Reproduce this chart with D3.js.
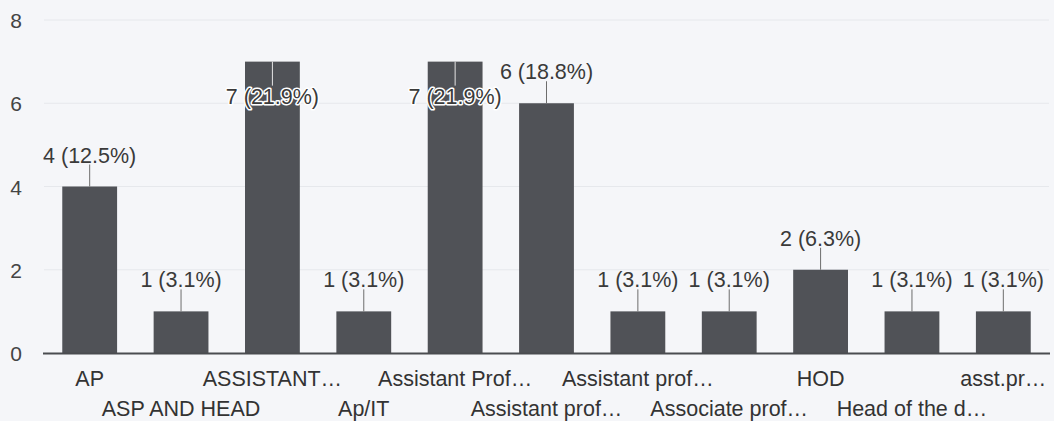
<!DOCTYPE html>
<html>
<head>
<meta charset="utf-8">
<script src="https://cdn.jsdelivr.net/npm/d3@7"></script>
<style>
  html, body { margin: 0; padding: 0; background: #f5f6f9; }
  svg { display: block; font-family: "Liberation Sans", Arial, sans-serif; }
</style>
</head>
<body>
<div id="chart"></div>
<script>
"use strict";

/* data */
const categories = ["AP", "ASP AND HEAD", "ASSISTANT…", "Ap/IT", "Assistant Prof…",
  "Assistant prof…", "Assistant prof…", "Associate prof…", "HOD", "Head of the d…", "asst.pr…"];
const counts = [4, 1, 7, 1, 7, 6, 1, 1, 2, 1, 1];
const percents = ["12.5", "3.1", "21.9", "3.1", "21.9", "18.8", "3.1", "3.1", "6.3", "3.1", "3.1"];
const yTicks = [0, 2, 4, 6, 8];

//---------------------------------
/* sizes and styles */
const w = 1054;
const h = 421;
const plotLeft = 44;
const plotRight = 1049;
const plotTop = 20;
const plotBottom = 353;
const barColor = "#505257";
const textColor = "#3a3a3a";
const fontSize = 21.5;

const svg = d3.select("#chart")
  .append("svg")
  .attr("width", w)
  .attr("height", h);

const xScale = d3.scaleBand()
  .domain(d3.range(categories.length))
  .range([plotLeft, plotRight])
  .paddingInner(0.4)
  .paddingOuter(0.2);

const yScale = d3.scaleLinear()
  .domain([0, 8])
  .range([plotBottom, plotTop]);

//---------------------------------
/* gridlines */
svg.append("g")
  .selectAll("line")
  .data(yTicks.filter(t => t > 0))
  .enter()
  .append("line")
  .attr("x1", plotLeft)
  .attr("x2", plotRight)
  .attr("y1", d => yScale(d))
  .attr("y2", d => yScale(d))
  .attr("stroke", "#e6e8ec")
  .attr("stroke-width", 1);

/* y axis labels */
const yAxis = d3.axisLeft(yScale).tickValues(yTicks).tickSize(0).tickPadding(0);
const yg = svg.append("g")
  .attr("transform", "translate(22,0)")
  .call(yAxis);
yg.select(".domain").remove();
yg.selectAll("text")
  .attr("font-size", 21)
  .attr("font-family", "Liberation Sans, Arial, sans-serif")
  .attr("fill", "#444")
  .attr("dy", "0.36em");

//---------------------------------
/* bars */
svg.append("g")
  .selectAll("rect")
  .data(counts)
  .enter()
  .append("rect")
  .attr("x", (d, i) => xScale(i))
  .attr("y", d => yScale(d))
  .attr("width", xScale.bandwidth())
  .attr("height", d => plotBottom - yScale(d))
  .attr("fill", barColor);

/* baseline */
svg.append("line")
  .attr("x1", plotLeft - 1)
  .attr("x2", plotRight + 1)
  .attr("y1", plotBottom + 0.5)
  .attr("y2", plotBottom + 0.5)
  .attr("stroke", "#4a4c50")
  .attr("stroke-width", 2);

//---------------------------------
/* value annotations: above the bar, or inside when there is no room */
const notes = svg.append("g");
counts.forEach(function(v, i) {
  const cx = xScale(i) + xScale.bandwidth() / 2;
  const top = yScale(v);
  const inside = top - 48 < plotTop;
  notes.append("line")
    .attr("x1", cx).attr("x2", cx)
    .attr("y1", top)
    .attr("y2", inside ? top + 24 : top - 22)
    .attr("stroke", inside ? "#e4e4e4" : "#6d6d6d")
    .attr("stroke-width", 1);
  const t = notes.append("text")
    .attr("x", cx)
    .attr("y", inside ? top + 42 : top - 24)
    .attr("text-anchor", "middle")
    .attr("font-size", fontSize)
    .attr("fill", textColor)
    .text(`${v} (${percents[i]}%)`);
  if (inside) {
    t.attr("stroke", "#ffffff")
      .attr("stroke-width", 3)
      .attr("paint-order", "stroke")
      .attr("stroke-linejoin", "round");
  }
});

//---------------------------------
/* x labels, staggered on two rows */
svg.append("g")
  .selectAll("text")
  .data(categories)
  .enter()
  .append("text")
  .attr("x", (d, i) => xScale(i) + xScale.bandwidth() / 2)
  .attr("y", (d, i) => i % 2 === 0 ? 386 : 416)
  .attr("text-anchor", "middle")
  .attr("font-size", fontSize)
  .attr("fill", "#333")
  .text(d => d);
</script>
</body>
</html>
